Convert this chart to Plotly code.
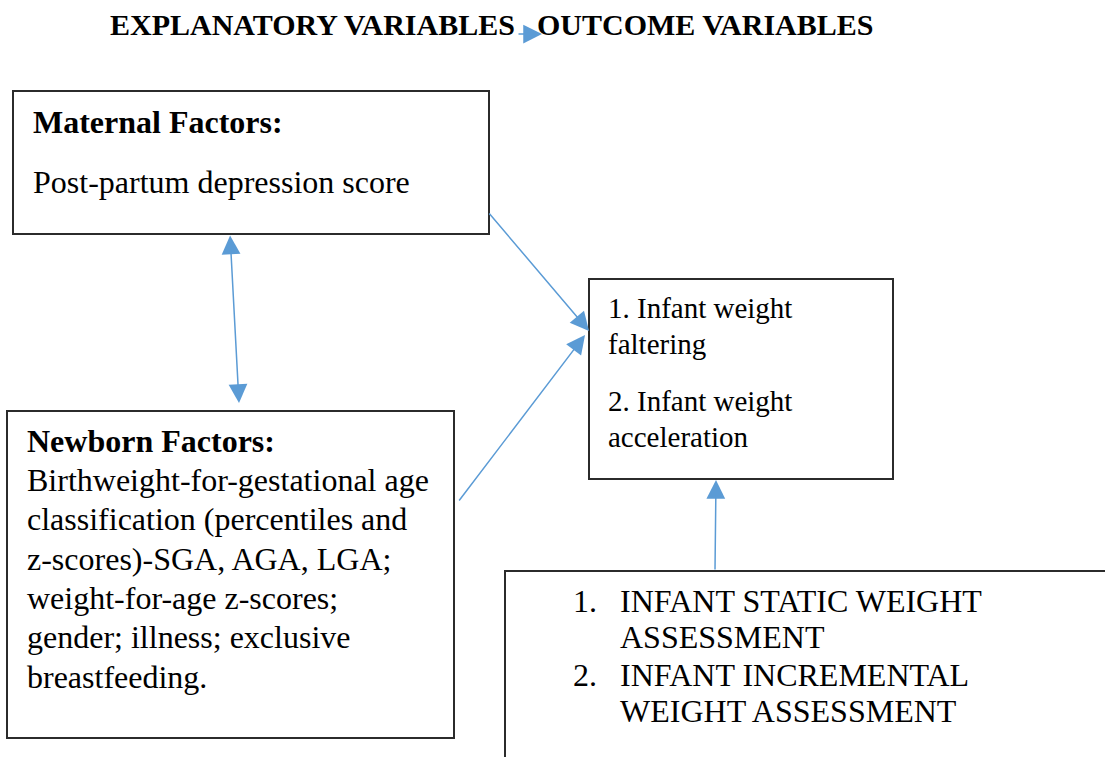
import plotly.graph_objects as go

# ---- text content ----
title_left = "EXPLANATORY VARIABLES"
title_right = "OUTCOME VARIABLES"
maternal_head = "Maternal Factors:"
maternal_lines = ["Post-partum depression score"]
newborn_head = "Newborn Factors:"
newborn_lines = [
    "Birthweight-for-gestational age",
    "classification (percentiles and",
    "z-scores)-SGA, AGA, LGA;",
    "weight-for-age z-scores;",
    "gender; illness; exclusive",
    "breastfeeding.",
]
outcome_lines = ["1. Infant weight", "faltering", "2. Infant weight", "acceleration"]
assess_numbers = ["1.", "", "2.", ""]
assess_lines = ["INFANT STATIC WEIGHT", "ASSESSMENT", "INFANT INCREMENTAL", "WEIGHT ASSESSMENT"]

W, H = 1105, 757
SERIF = "Liberation Serif, Times New Roman, serif"
BLUE = "#5B9BD5"
BORDER = "#2b2b2b"

fig = go.Figure()

# boxes
boxes = [
    (13, 91, 489, 234),
    (7, 411, 454, 738),
    (589, 279, 893, 479),
    (505, 571, 1115, 775),
]
for x0, y0, x1, y1 in boxes:
    fig.add_shape(type="rect", x0=x0, y0=y0, x1=x1, y1=y1,
                  line=dict(color=BORDER, width=2), fillcolor="rgba(0,0,0,0)")

ann = []
def txt(x, y, s, size=32, bold=False):
    ann.append(dict(x=x - 3, y=y, xref="x", yref="y", text=(f"<b>{s}</b>" if bold else s),
                    showarrow=False, xanchor="left", yanchor="middle",
                    font=dict(family=SERIF, size=size, color="black")))

# title
txt(111, 24, title_left, size=30, bold=True)
txt(538, 24, title_right, size=30, bold=True)

# maternal
txt(34, 122, maternal_head, bold=True)
for i, s in enumerate(maternal_lines):
    txt(34, 182 + i * 39, s)

# newborn
txt(28, 441, newborn_head, bold=True)
for i, s in enumerate(newborn_lines):
    txt(28, 480 + i * 39.3, s)

# outcome
out_y = [308, 344, 401, 437]
for y, s in zip(out_y, outcome_lines):
    txt(609, y, s, size=29)

# assessment
as_y = [601, 637, 675, 711]
for y, n, s in zip(as_y, assess_numbers, assess_lines):
    if n:
        txt(574, y, n)
    txt(621, y, s)

# arrows (tip x,y ; tail ax,ay)
arrows = [
    (542, 34, 517, 34, False),
    (589, 331, 488, 212, False),
    (585, 335, 458, 502, False),
    (716, 480, 715, 571, False),
    (239, 403, 230, 234, True),
]
for x, y, ax, ay, both in arrows:
    ann.append(dict(x=x, y=y, ax=ax, ay=ay, xref="x", yref="y", axref="x", ayref="y",
                    text="", showarrow=True, arrowhead=2, startarrowhead=2,
                    arrowside="end+start" if both else "end",
                    arrowsize=2.5, startarrowsize=2.5, arrowwidth=1.5, arrowcolor=BLUE,
                    standoff=0, startstandoff=0))

fig.update_layout(
    width=W, height=H,
    margin=dict(l=0, r=0, t=0, b=0),
    paper_bgcolor="white", plot_bgcolor="white",
    xaxis=dict(range=[0, W], visible=False, fixedrange=True),
    yaxis=dict(range=[H, 0], visible=False, fixedrange=True),
    annotations=ann,
    showlegend=False,
)

fig.write_html("out.html", config={"displayModeBar": False},
               post_script="document.body.style.margin='0';document.body.style.overflow='hidden';")
